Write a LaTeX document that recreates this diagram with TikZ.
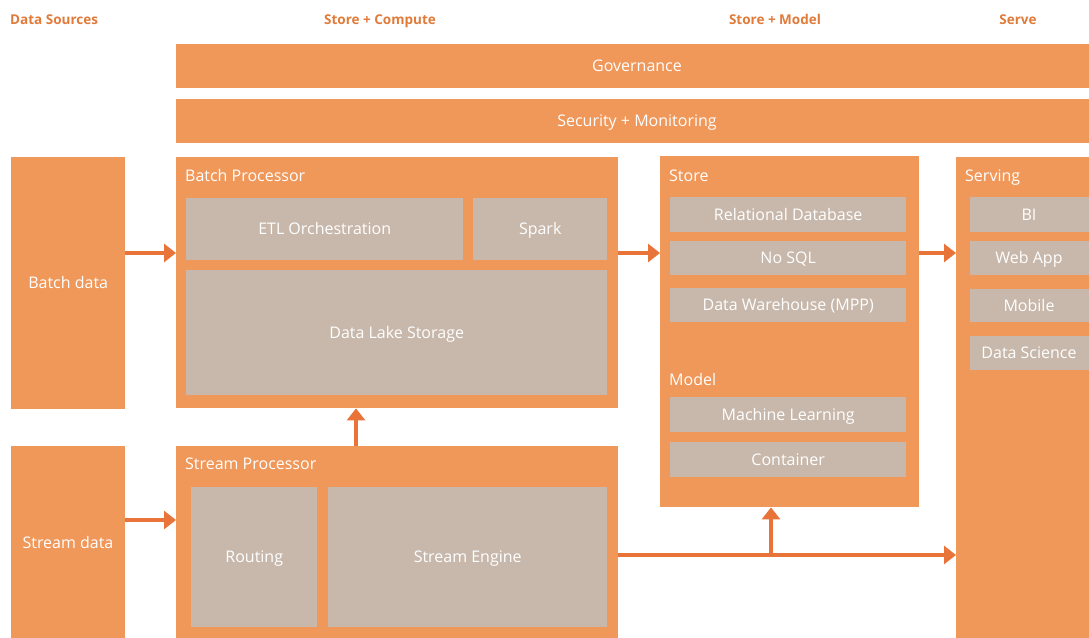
\documentclass[tikz,border=0pt]{standalone}
\usepackage{fontspec}
\setmainfont{Open Sans}
\usetikzlibrary{arrows.meta}
\definecolor{panelorange}{HTML}{F0975A}
\definecolor{partgray}{HTML}{C8B8AB}
\definecolor{floworange}{HTML}{E8743A}
\definecolor{headorange}{HTML}{E07B3A}
\begin{document}
\begin{tikzpicture}
            [
                x = 1pt, y = -1pt,
                every node/.style = {inner sep=0pt, align=center, text=white,
                font=\fontsize{16}{19}\selectfont, text height=13.5pt, text depth=2pt},
                panel/.style = {fill=panelorange, anchor=north west},
                part/.style  = {fill=partgray, anchor=north west},
                title/.style = {anchor=base west},
                heading/.style = {anchor=base, text=headorange,
                font=\fontsize{13.5}{16}\selectfont\bfseries},
                flow/.style = {draw=floworange, line width=3.5pt,
                -{Triangle[length=12pt, width=18pt]}}
            ]
            \useasboundingbox (0,0) rectangle (1089,637);
            \clip (0,0) rectangle (1089,637);
            \fill[white] (0,0) rectangle (1089,637);

            % column headings
            \node[heading, anchor=base west] (hsrc) at (10,24) {Data Sources};
            \node[heading] (hcomp)  at (380,24)  {Store + Compute};
            \node[heading] (hmodel) at (775,24)  {Store + Model};
            \node[heading] (hserve) at (1018,24) {Serve};

            % bars
            \node[panel, minimum width=930pt, minimum height=44pt] (gov) at (176,44) {};
            \node at (637,66) {Governance};
            \node[panel, minimum width=930pt, minimum height=44pt] (sec) at (176,99) {};
            \node at (637,121) {Security + Monitoring};

            % sources
            \node[panel, minimum width=114pt, minimum height=252pt] (batchdata) at (11,157) {Batch data};
            \node[panel, minimum width=114pt, minimum height=200pt] (streamdata) at (11,446) {};
            \node (streamlbl) at (68,543) {Stream data};

            % batch processor
            \node[panel, minimum width=442pt, minimum height=251pt] (batchproc) at (176,157) {};
            \node[title] (batchlbl) at (185,181) {Batch Processor};
            \node[part, minimum width=277pt, minimum height=62pt] (etl) at (186,198) {ETL Orchestration};
            \node[part, minimum width=134pt, minimum height=62pt] (spark) at (473,198) {Spark};
            \node[part, minimum width=421pt, minimum height=125pt] (lake) at (186,270) {Data Lake Storage};

            % stream processor
            \node[panel, minimum width=442pt, minimum height=200pt] (streamproc) at (176,446) {};
            \node[title] (streamplbl) at (185,469) {Stream Processor};
            \node[part, minimum width=126pt, minimum height=140pt] (routing) at (191,487) {Routing};
            \node[part, minimum width=279pt, minimum height=140pt] (engine) at (328,487) {Stream Engine};

            % store + model
            \node[panel, minimum width=259pt, minimum height=351pt] (store) at (660,156) {};
            \node[title] (storelbl) at (669,181) {Store};
            \node[part, minimum width=236pt, minimum height=35pt] (rdb) at (670,197) {Relational Database};
            \node[part, minimum width=236pt, minimum height=34pt] (nosql) at (670,241) {No SQL};
            \node[part, minimum width=236pt, minimum height=34pt] (dwh) at (670,288) {Data Warehouse (MPP)};
            \node[title] (modellbl) at (669,385) {Model};
            \node[part, minimum width=236pt, minimum height=35pt] (ml) at (670,397) {Machine Learning};
            \node[part, minimum width=236pt, minimum height=35pt] (cont) at (670,442) {Container};

            % serving
            \node[panel, minimum width=140pt, minimum height=490pt] (serving) at (956,157) {};
            \node[title] (servlbl) at (965,181) {Serving};
            \node[part, minimum width=119pt, minimum height=35pt] (bi) at (970,197) {};
            \node at (1029,214.5) {BI};
            \node[part, minimum width=119pt, minimum height=34pt] (web) at (970,241) {};
            \node at (1029,258) {Web App};
            \node[part, minimum width=119pt, minimum height=33pt] (mob) at (970,289) {};
            \node at (1029,305.5) {Mobile};
            \node[part, minimum width=119pt, minimum height=34pt] (dsci) at (970,336) {};
            \node at (1029,353) {Data Science};

            % connectors
            \coordinate (bin)  at (0,253);
            \coordinate (sin)  at (0,520);
            \coordinate (up)   at (356,0);
            \coordinate (sout) at (771,555);
            \draw[flow] (batchdata.east |- bin) -- (batchproc.west |- bin);
            \draw[flow] (streamdata.east |- sin) -- (streamproc.west |- sin);
            \draw[flow] (batchproc.east |- bin) -- (store.west |- bin);
            \draw[flow] (store.east |- bin) -- (serving.west |- bin);
            \draw[flow] (streamproc.north -| up) -- (batchproc.south -| up);
            \draw[flow] (streamproc.east |- sout) -- (serving.west |- sout);
            \draw[flow] (sout) -- (store.south -| sout);
        \end{tikzpicture}
\end{document}
